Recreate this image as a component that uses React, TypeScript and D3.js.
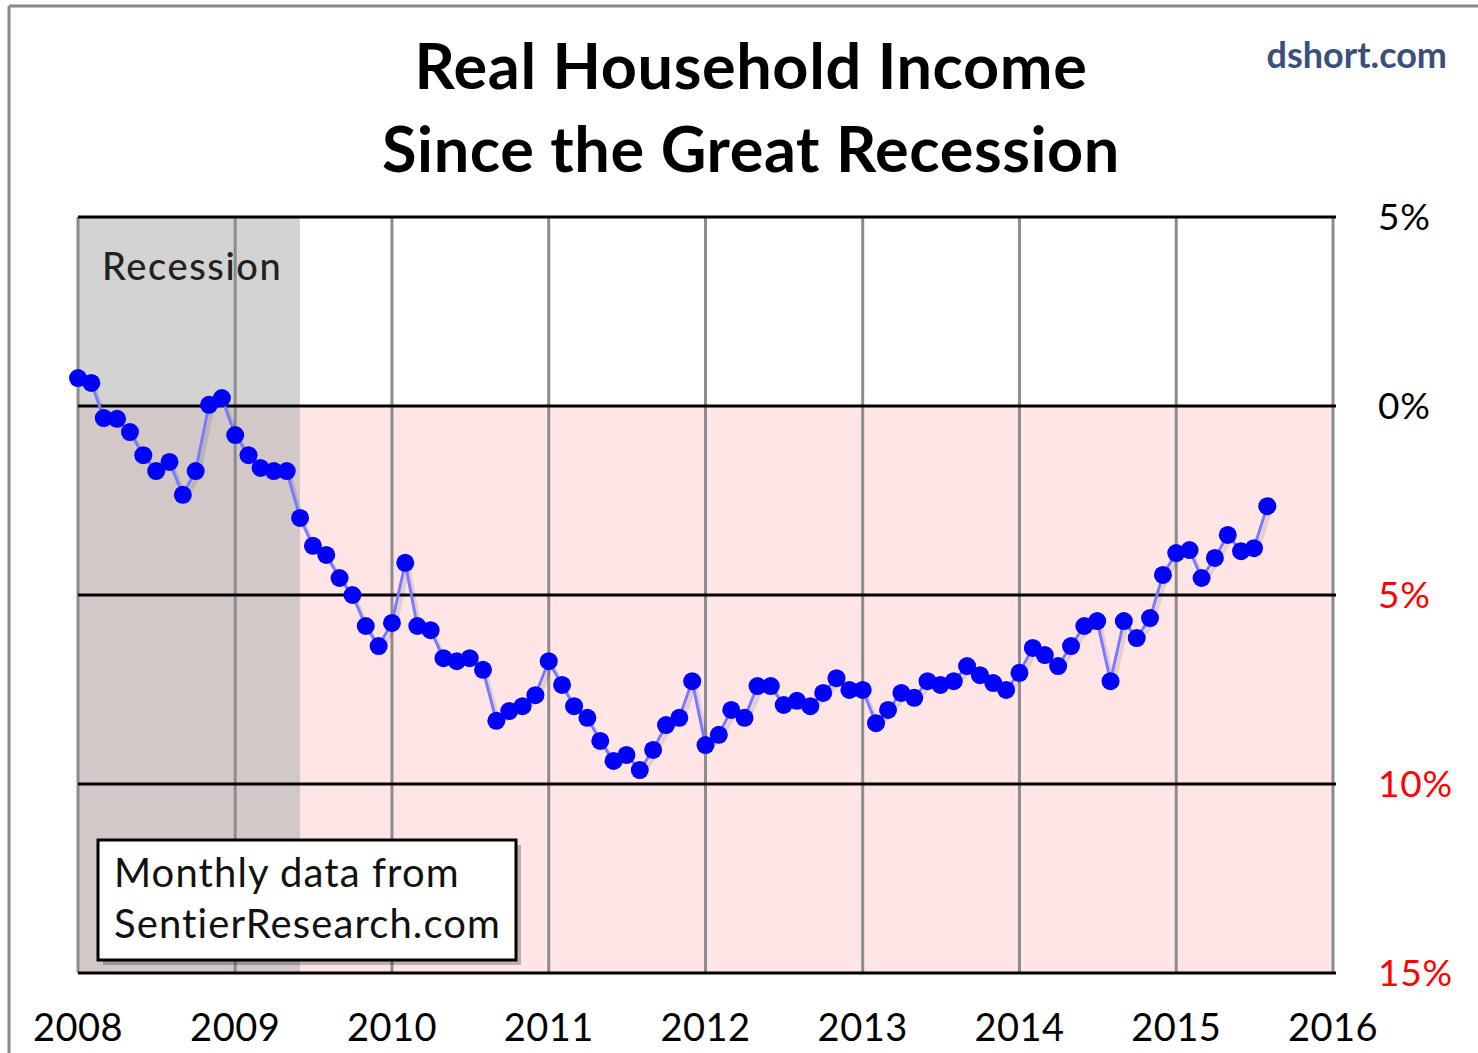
import * as d3 from "d3";

// monthly % change in real median household income since Jan 2008 (negative = below)
const startYear = 2008;
const values: number[] = [
  // 2008
  0.74, 0.61, -0.32, -0.34, -0.69, -1.3, -1.72, -1.48, -2.35, -1.72, 0.03, 0.21,
  // 2009
  -0.77, -1.3, -1.64, -1.72, -1.72, -2.96, -3.7, -3.94, -4.55, -5.0, -5.82, -6.35,
  // 2010
  -5.74, -4.15, -5.82, -5.93, -6.67, -6.75, -6.67, -6.98, -8.33, -8.07, -7.94, -7.65,
  // 2011
  -6.75, -7.38, -7.94, -8.25, -8.86, -9.39, -9.23, -9.63, -9.1, -8.44, -8.25, -7.28,
  // 2012
  -8.97, -8.7, -8.04, -8.25, -7.41, -7.41, -7.91, -7.8, -7.94, -7.59, -7.2, -7.51,
  // 2013
  -7.51, -8.39, -8.04, -7.59, -7.72, -7.28, -7.38, -7.28, -6.88, -7.12, -7.33, -7.51,
  // 2014
  -7.06, -6.4, -6.59, -6.88, -6.35, -5.82, -5.69, -7.28, -5.69, -6.14, -5.61, -4.47,
  // 2015
  -3.89, -3.81, -4.55, -4.02, -3.41, -3.84, -3.76, -2.65,
];
const yTicks = [5, 0, -5, -10, -15];
const xYears = [2008, 2009, 2010, 2011, 2012, 2013, 2014, 2015, 2016];
const recession = [new Date(2008, 0, 1), new Date(2009, 5, 1)];
const title = ["Real Household Income", "Since the Great Recession"];
const noteLines = ["Monthly data from", "SentierResearch.com"];

const width = 1478;
const height = 1053;
const left = 78;
const right = 1333;
const top = 217;
const bottom = 973;
const font = "Lato, 'Open Sans', sans-serif";

export default function App() {
  const x = d3.scaleTime([new Date(2008, 0, 1), new Date(2016, 0, 1)], [left, right]);
  const y = d3.scaleLinear([-15, 5], [bottom, top]);

  const points = values.map((v, i) => ({ date: new Date(startYear, i, 1), v }));
  const line = d3
    .line<{ date: Date; v: number }>()
    .x((d) => x(d.date))
    .y((d) => y(d.v));
  const path = line(points)!;

  return (
    <svg
      width={width}
      height={height}
      style={{ position: "absolute", left: 0, top: 0, background: "#fff" }}
      fontFamily={font}
    >
      {/* outer frame */}
      <line x1={9} x2={width} y1={6} y2={6} stroke="#8a8a8a" strokeWidth={3} />
      <line x1={9} x2={9} y1={6} y2={height} stroke="#8a8a8a" strokeWidth={3} />

      {/* backgrounds */}
      <rect x={left} y={y(0)} width={right - left} height={bottom - y(0)} fill="#ffe5e5" />
      <rect
        x={x(recession[0])}
        y={top}
        width={x(recession[1]) - x(recession[0])}
        height={y(0) - top}
        fill="#d3d3d3"
      />
      <rect
        x={x(recession[0])}
        y={y(0)}
        width={x(recession[1]) - x(recession[0])}
        height={bottom - y(0)}
        fill="#d3c8c8"
      />

      {/* vertical grid */}
      {xYears.map((yr) => (
        <line
          key={yr}
          x1={x(new Date(yr, 0, 1))}
          x2={x(new Date(yr, 0, 1))}
          y1={top}
          y2={bottom}
          stroke="#8c8c8c"
          strokeWidth={3}
        />
      ))}
      {/* horizontal grid */}
      {yTicks.map((t) => (
        <line
          key={t}
          x1={left}
          x2={right + 3}
          y1={y(t)}
          y2={y(t)}
          stroke="#000"
          strokeWidth={3}
        />
      ))}

      <text x={102} y={280} fontSize={38} letterSpacing={1.6} fill="#222" fontWeight={500}>
        Recession
      </text>

      {/* series */}
      <path d={path} fill="none" stroke="#000" strokeOpacity={0.1} strokeWidth={4} transform="translate(3,4)" />
      <path d={path} fill="none" stroke="#7a7aff" strokeWidth={3} />
      {points.map((d, i) => (
        <circle key={i} cx={x(d.date)} cy={y(d.v)} r={9} fill="#0000ff" />
      ))}

      {/* note box */}
      <rect x={103} y={845} width={418} height={120} fill="#000" fillOpacity={0.25} />
      <rect x={98} y={840} width={418} height={120} fill="#fff" stroke="#000" strokeWidth={3} />
      {noteLines.map((t, i) => (
        <text key={t} x={114} y={887 + i * 51} fontSize={40} letterSpacing={1.1} fill="#111">
          {t}
        </text>
      ))}

      {/* y labels */}
      {yTicks.map((t) => (
        <text
          key={t}
          x={1378}
          y={y(t)}
          dy="0.36em"
          fontSize={37}
          letterSpacing={0.8}
          fill={t < 0 ? "#ff0000" : "#000"}
        >
          {Math.abs(t) + "%"}
        </text>
      ))}

      {/* x labels */}
      {xYears.map((yr) => (
        <text
          key={yr}
          x={x(new Date(yr, 0, 1))}
          y={1041}
          textAnchor="middle"
          fontSize={38}
          letterSpacing={0.5}
          fill="#000"
        >
          {yr}
        </text>
      ))}

      {/* titles */}
      {title.map((t, i) => (
        <text
          key={t}
          x={751}
          y={89 + i * 83}
          textAnchor="middle"
          fontSize={63}
          fontWeight={700}
          letterSpacing={0.6}
          fill="#000"
        >
          {t}
        </text>
      ))}
      <text x={1447} y={68} textAnchor="end" fontSize={36} fontWeight={700} fill="#3b4f7c">
        dshort.com
      </text>
    </svg>
  );
}
